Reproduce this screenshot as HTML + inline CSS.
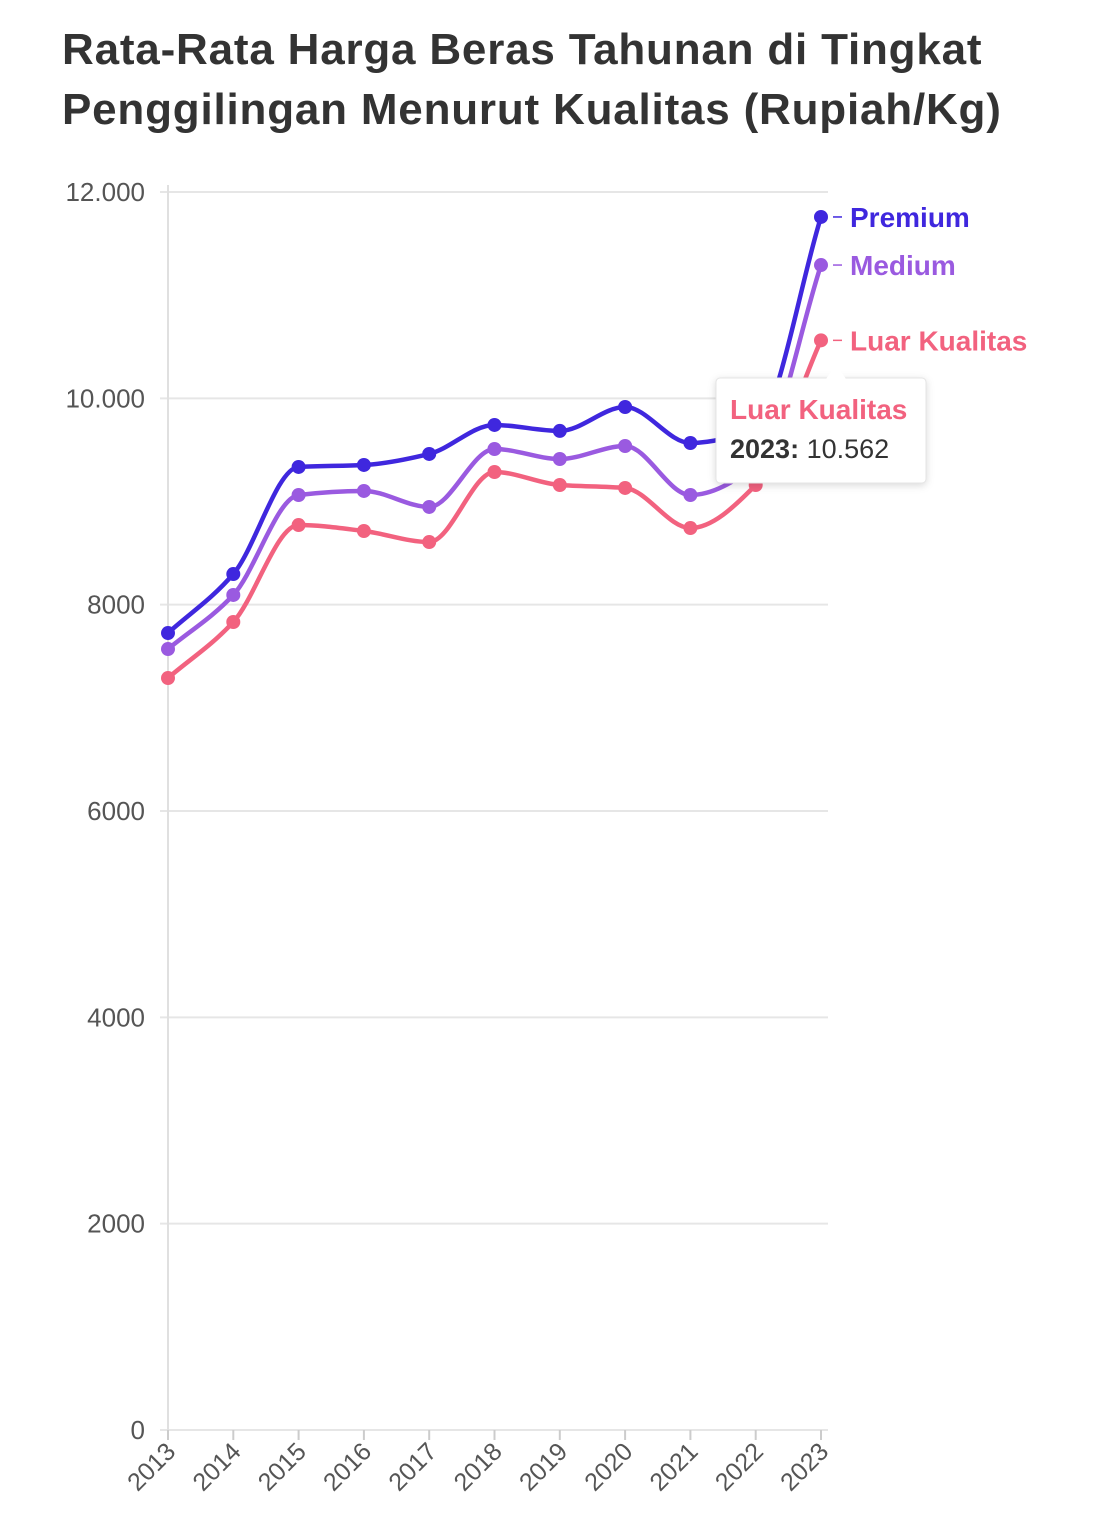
<!DOCTYPE html>
<html><head><meta charset="utf-8"><style>
body{margin:0;background:#fff;width:1093px;height:1536px;overflow:hidden;font-family:"Liberation Sans",sans-serif}
h1{position:absolute;left:62px;top:20px;margin:0;font-size:44px;line-height:60px;color:#333;font-weight:bold;letter-spacing:0.8px}
</style></head><body>
<h1>Rata-Rata Harga Beras Tahunan di Tingkat<br>Penggilingan Menurut Kualitas (Rupiah/Kg)</h1>
<svg id="c" width="1093" height="1536" style="position:absolute;left:0;top:0"></svg>
<script>
const years=["2013","2014","2015","2016","2017","2018","2019","2020","2021","2022","2023"];
const premium=[7725,8297,9335,9354,9461,9742,9684,9916,9567,9720,11758];
const medium=[7570,8094,9063,9102,8947,9509,9412,9538,9063,9354,11292];
const luar=[7289,7832,8772,8714,8607,9286,9160,9131,8743,9160,10562];
const yTicks=[0,2000,4000,6000,8000,10000,12000];
const yTickLabels=["0","2000","4000","6000","8000","10.000","12.000"];
const seriesNames=["Premium","Medium","Luar Kualitas"];
const NS="http://www.w3.org/2000/svg";
const svg=document.getElementById('c');
const x=i=>168+i*(821-168)/(years.length-1);
const y=v=>1430-v*(1430-192)/12000;
function mk(t,a,p){const e=document.createElementNS(NS,t);for(const k in a)e.setAttribute(k,a[k]);(p||svg).appendChild(e);return e;}
yTicks.forEach((v,i)=>{
 const g=mk('line',{x1:160,x2:828,y1:y(v),y2:y(v),stroke:'#e6e6e6','stroke-width':2});
 
 
 const t=mk('text',{x:145,y:y(v)+9,'text-anchor':'end','font-size':26,fill:'#555'});
 t.textContent=yTickLabels[i];
 
 
});
mk('line',{x1:168,x2:168,y1:185,y2:1430,stroke:'#e0e0e0','stroke-width':2});
years.forEach((yr,i)=>{
 mk('line',{x1:x(i),x2:x(i),y1:1430,y2:1440,stroke:'#ccc','stroke-width':2});
 const t=mk('text',{x:x(i)+9,y:1453,'text-anchor':'end','font-size':25,fill:'#555',transform:`rotate(-45 ${x(i)+9} 1453)`});
 t.textContent=yr;
 
 
});
function monotone(pts){
 const n=pts.length,d=[],m=[];
 for(let i=0;i<n-1;i++)d.push((pts[i+1][1]-pts[i][1])/(pts[i+1][0]-pts[i][0]));
 m[0]=d[0];m[n-1]=d[n-2];
 for(let i=1;i<n-1;i++){m[i]=d[i-1]*d[i]<=0?0:2/(1/d[i-1]+1/d[i]);}
 let s=`M${pts[0][0]},${pts[0][1]}`;
 for(let i=0;i<n-1;i++){const h=(pts[i+1][0]-pts[i][0])/3;
  s+=`C${pts[i][0]+h},${pts[i][1]+m[i]*h} ${pts[i+1][0]-h},${pts[i+1][1]-m[i+1]*h} ${pts[i+1][0]},${pts[i+1][1]}`;}
 return s;
}
const data=[premium,medium,luar],cols=["#3f27de","#9a5ae0","#f2627f"],names=["series-premium","series-medium","series-luar-kualitas"];
[2,1,0].forEach(k=>{
 const vals=data[k];
 const pts=vals.map((v,i)=>[x(i),y(v)]);
 const p=mk('path',{d:monotone(pts),fill:'none',stroke:cols[k],'stroke-width':4.5});
 
 
 pts.forEach(q=>{const c=mk('circle',{cx:q[0],cy:q[1],r:7,fill:cols[k]});
  
  });
 const ly=pts[pts.length-1][1];
 mk('line',{x1:833,x2:842,y1:ly,y2:ly,stroke:cols[k],'stroke-width':1.5});
 const t=mk('text',{x:850,y:ly+10,'font-size':28,'font-weight':'bold',fill:cols[k]});
 t.textContent=seriesNames[k];
 
 
});
const last=luar.length-1;
const g=mk('g',{});


mk('rect',{x:716,y:378,width:210,height:105,rx:4,fill:'#fff',stroke:'#e4e4e4','stroke-width':1,style:'filter:drop-shadow(0 2px 4px rgba(0,0,0,0.15))'},g);
mk('path',{d:`M826,379 L836,364 L846,379 Z`,fill:'#fff'},g);
const t1=mk('text',{x:730,y:419,'font-size':28,'font-weight':'bold',fill:'#f2627f'},g);t1.textContent=seriesNames[2];
const t2=mk('text',{x:730,y:458,'font-size':27,fill:'#333'},g);
t2.innerHTML=`<tspan font-weight="bold">${years[last]}:</tspan> ${luar[last].toLocaleString('de-DE')}`;
</script>
</body></html>
